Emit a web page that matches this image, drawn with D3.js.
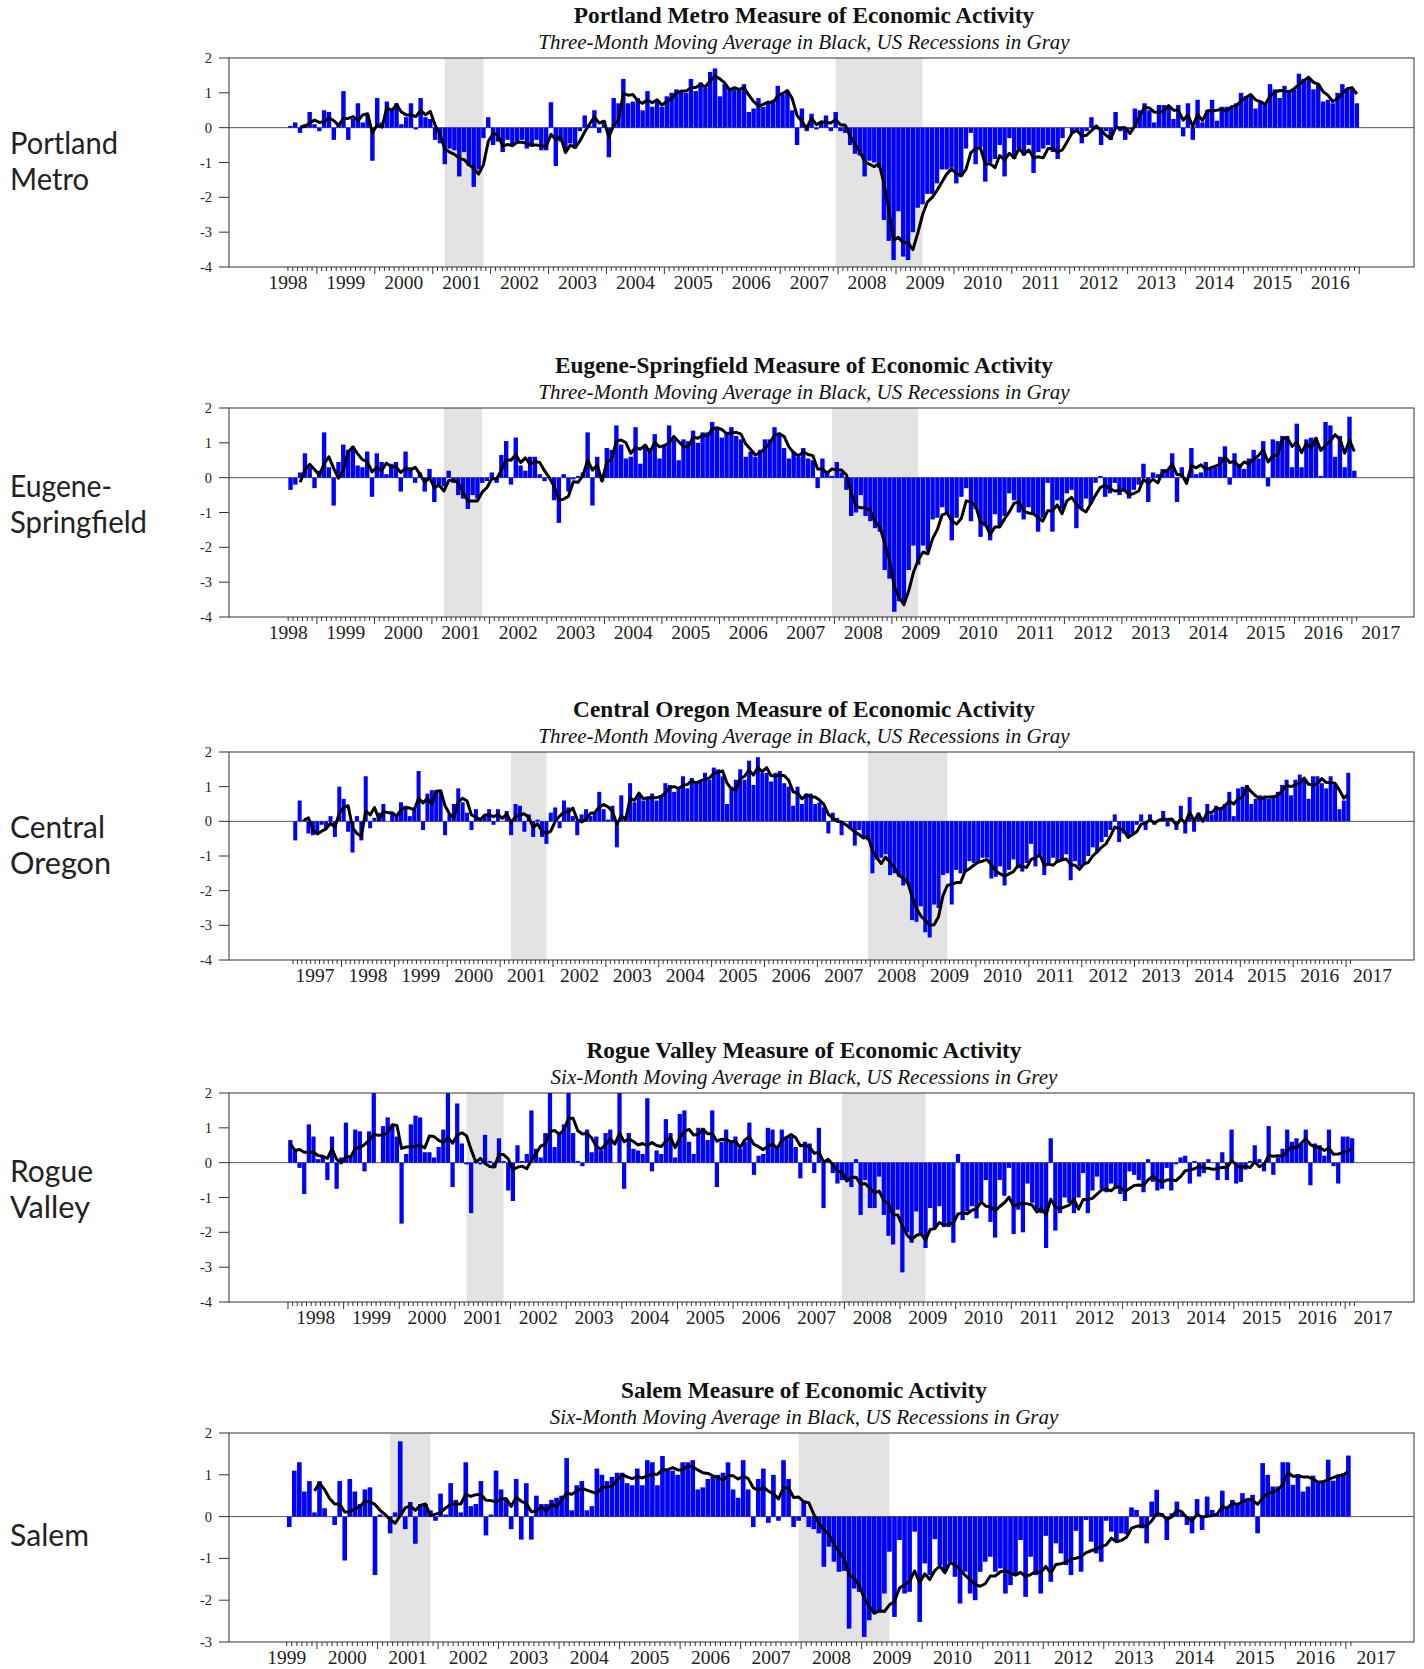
<!DOCTYPE html>
<html>
<head>
<meta charset="utf-8">
<script src="https://cdn.jsdelivr.net/npm/d3@7"></script>
<style>
  body { margin: 0; background: #ffffff; }
</style>
</head>
<body>
<svg id="chart" width="1424" height="1669"></svg>
<script>
// Monthly index values, one row per calendar year

const portlandStart = [1998, 7];
const portlandValues = [
  0.05, 0.15, -0.15, 0.1, 0.45, 0.1,
  -0.1, 0.5, 0.45, -0.35, 0.1, 1.05, -0.35, 0.25, 0.7, 0.15, 0.35, -0.95,
  0.85, 0.15, 0.75, 0.55, 0.7, 0.1, 0.3, 0.7, -0.05, 0.85, 0.3, 0.25,
  -0.35, -0.45, -1.05, -0.6, -0.65, -1.4, -0.7, -1.1, -1.7, -1.2, -0.3, 0.3,
  -0.5, -0.4, -0.7, -0.35, -0.5, -0.4, -0.35, -0.6, -0.55, -0.35, -0.65, -0.65,
  0.73, -1.1, -0.4, -0.65, -0.45, -0.6, -0.1, 0.35, 0.05, 0.5, -0.15, 0.2,
  -0.85, 0.85, 0.7, 1.4, 0.7, 0.75, 0.85, 0.5, 1.05, 0.6, 0.75, 0.6,
  0.9, 1.0, 1.1, 1.05, 1.0, 1.4, 1.05, 1.3, 1.15, 1.6, 1.7, 0.9,
  1.25, 1.1, 1.1, 1.1, 1.25, 0.45, 0.55, 0.85, 0.6, 0.75, 0.8, 1.2,
  0.95, 1.05, 0.5, -0.5, 0.55, -0.1, 0.4, -0.05, 0.15, 0.35, -0.1, 0.45,
  -0.1, -0.15, -0.5, -0.75, -0.8, -1.4, -0.95, -1.0, -1.15, -2.65, -3.25, -3.8,
  -2.4, -3.7, -3.8, -3.0, -2.3, -2.2, -1.9, -1.9, -1.6, -1.2, -1.2, -1.15,
  -1.6, -1.4, -0.6, -0.15, -1.05, -0.55, -1.55, -1.0, -0.9, -0.5, -1.4, -0.3,
  -0.9, -0.6, -0.8, -0.5, -1.3, -0.7, -0.6, -0.5, -0.7, -0.9, -0.3, 0.0,
  -0.15, -0.1, -0.45, -0.1, 0.3, -0.05, -0.5, -0.1, -0.35, 0.45, -0.1, -0.35,
  -0.05, 0.55, 0.5, 0.7, 0.5, 0.15, 0.65, 0.65, 0.6, 0.25, 0.65, -0.25,
  0.7, -0.35, 0.8, 0.15, 0.5, 0.8, 0.2, 0.6, 0.6, 0.6, 0.7, 1.0,
  0.9, 0.95, 0.55, 0.75, 0.7, 1.25, 1.1, 0.85, 1.2, 1.05, 1.1, 1.55,
  1.4, 1.4, 1.1, 1.25, 0.75, 0.8, 0.7, 1.0, 1.25, 1.1, 1.1, 0.7
];

const eugeneStart = [1998, 7];
const eugeneValues = [
  -0.35, -0.2, 0.15, 0.7, 0.3, -0.3,
  0.2, 1.3, 0.3, -0.8, 0.45, 0.95, 0.8, 0.9, 0.35, 0.3, 0.75, -0.55,
  0.7, 0.45, 0.1, 0.4, 0.45, -0.4, 0.75, 0.3, -0.15, 0.15, -0.4, 0.25,
  -0.7, -0.2, -0.25, 0.2, -0.15, -0.5, -0.6, -0.9, -0.5, -0.6, -0.15, -0.1,
  0.15, -0.15, 0.65, 1.05, -0.2, 1.15, 0.35, 0.2, 0.6, 0.6, 0.1, -0.1,
  0.0, -0.65, -1.3, 0.1, -0.4, -0.05, 0.05, 0.15, 1.3, -0.8, 0.6, -0.1,
  0.85, 0.8, 1.5, 0.95, 0.55, 0.6, 1.45, 0.4, 0.95, 0.85, 1.25, 0.55,
  0.95, 1.5, 1.1, 0.5, 1.1, 1.05, 1.35, 1.0, 1.3, 1.3, 1.6, 1.4,
  1.15, 1.25, 1.45, 1.2, 1.1, 0.6, 0.75, 0.6, 0.8, 1.1, 1.1, 1.45,
  1.25, 0.85, 0.55, 0.75, 0.6, 0.85, 0.55, 0.5, -0.3, 0.55, 0.15, 0.05,
  0.45, 0.15, -0.35, -1.1, -1.0, -0.5, -1.1, -1.25, -1.45, -1.55, -2.65, -2.9,
  -3.85, -3.55, -3.55, -2.65, -1.95, -2.5, -1.95, -2.1, -1.2, -1.15, -0.85, -1.05,
  -1.8, -1.15, -0.55, -0.3, -1.25, -0.9, -1.7, -1.4, -1.8, -1.05, -1.4, -1.1,
  -0.45, -0.65, -1.0, -1.2, -0.85, -1.05, -1.55, -1.15, -0.15, -1.55, -0.65, -0.9,
  -0.45, -0.35, -1.45, -0.9, -0.6, -0.75, -0.15, 0.05, -0.55, -0.45, -0.15, -0.5,
  -0.4, -0.6, -0.35, -0.2, 0.4, -0.7, 0.15, 0.1, 0.25, 0.25, 0.7, -0.7,
  0.3, -0.1, 0.85, 0.1, 0.15, 0.45, 0.25, 0.3, 0.6, 0.9, -0.2, 0.7,
  0.4, 0.25, 0.55, 0.8, 0.55, 1.05, -0.25, 1.1, 1.05, 1.2, 1.2, 0.3,
  1.55, 0.3, 1.1, 1.15, 1.15, 0.05, 1.6, 1.5, 0.6, 1.2, 0.3, 1.75,
  0.2
];

const centralStart = [1997, 2];
const centralValues = [
  -0.55, 0.6, 0.05, -0.35, -0.4, -0.35, -0.1, -0.2, 0.15, -0.45, 1.0,
  0.65, -0.3, -0.9, 0.15, -0.55, 1.3, -0.2, 0.1, 0.25, 0.5, 0.0, 0.25,
  0.2, 0.55, 0.45, 0.15, 0.4, 1.45, -0.25, 0.8, 0.9, 0.9, 0.85, -0.4,
  0.2, 0.5, 0.95, 0.55, 0.25, -0.25, 0.35, 0.05, 0.15, 0.35, -0.1, 0.35,
  0.0, 0.3, -0.4, 0.5, 0.45, -0.3, 0.2, -0.45, 0.05, -0.45, -0.65, 0.25,
  0.4, -0.2, 0.6, 0.4, 0.15, -0.4, 0.2, 0.35, 0.15, 0.25, 0.85, 0.35,
  0.05, 0.45, -0.75, 0.75, 0.15, 1.1, 0.55, 0.8, 0.6, 0.65, 0.8, 0.6,
  0.75, 1.1, 1.05, 0.85, 0.95, 1.3, 0.95, 1.25, 1.1, 1.15, 1.4, 1.2,
  1.55, 1.5, 1.3, 0.5, 1.0, 1.2, 1.5, 1.2, 1.75, 1.05, 1.85, 1.4,
  1.4, 1.15, 1.4, 1.45, 1.1, 1.0, 0.45, 1.0, 0.5, 0.8, 0.8, 0.5,
  0.55, 0.4, -0.35, 0.25, 0.1, -0.4, 0.0, -0.2, -0.7, -0.25, -0.5, -0.55,
  -1.5, -1.1, -1.05, -0.95, -1.55, -1.5, -1.6, -1.85, -1.8, -2.85, -2.9, -2.45,
  -3.2, -3.35, -2.4, -2.5, -1.55, -1.5, -2.4, -1.4, -1.5, -1.45, -1.15, -1.2,
  -1.2, -1.05, -1.05, -1.65, -1.6, -1.3, -1.85, -1.4, -1.1, -1.35, -1.45, -1.2,
  -0.65, -1.3, -0.95, -1.55, -1.2, -1.05, -1.2, -1.1, -0.95, -1.7, -1.15, -1.3,
  -1.25, -1.0, -0.75, -0.9, -0.6, -0.45, -0.25, 0.2, -0.6, -0.35, -0.45, -0.35,
  -0.1, 0.2, -0.25, 0.2, -0.1, 0.0, 0.3, -0.15, 0.05, -0.25, 0.45, -0.35,
  0.7, -0.3, 0.25, 0.05, 0.5, 0.2, 0.45, 0.4, 0.5, 0.85, 0.15, 0.95,
  1.0, 1.05, 0.5, 0.65, 0.75, 0.7, 0.65, 0.75, 0.85, 1.05, 1.2, 0.75,
  1.2, 1.35, 1.2, 0.65, 1.3, 1.3, 1.1, 0.95, 1.3, 1.05, 0.35, 0.6,
  1.4
];

const rogueStart = [1998, 1];
const rogueValues = [
  0.65, 0.35, -0.15, -0.9, 1.1, 0.75, 0.1, 0.2, -0.5, 0.75, -0.75, 0.15,
  1.15, 0.2, 0.95, 0.9, -0.25, 0.9, 2.2, 0.0, 1.05, 1.3, 1.1, 0.75,
  -1.75, 0.25, 1.1, 1.35, 1.3, 0.3, 0.3, 0.15, 0.45, 0.95, 2.2, -0.7,
  1.7, 0.55, -0.05, -1.45, 0.05, -0.05, 0.8, 0.05, -0.15, 0.7, 0.05, -0.8,
  -1.1, 0.5, 0.05, 0.25, 1.5, 0.4, 0.15, 0.85, 2.2, 0.45, 0.85, 1.1,
  2.2, 0.85, 0.05, -0.1, 0.95, 0.3, 0.75, 0.35, 0.85, 0.95, 0.0, 2.2,
  -0.75, 0.85, 0.4, 0.35, 0.25, 1.85, -0.25, 0.35, 0.25, 1.25, 0.85, 0.15,
  1.4, 1.5, 0.6, 0.25, 1.0, 1.0, 0.65, 1.5, -0.7, 0.6, 0.95, 0.6,
  0.75, 0.4, 0.6, 1.15, -0.35, 0.2, 0.25, 1.0, 0.95, 0.45, 0.95, 0.75,
  0.75, 0.45, -0.45, 0.6, 0.55, -0.3, 1.0, -1.3, 0.05, -0.3, -0.6, -0.5,
  -0.5, -0.7, 0.1, -1.5, -0.5, -1.3, -1.3, -0.4, -1.5, -2.1, -2.35, -1.35,
  -3.15, -2.0, -2.3, -1.4, -2.05, -2.45, -1.3, -1.85, -1.25, -1.85, -1.85, -2.3,
  0.25, -1.65, -1.4, -1.25, -1.6, -1.1, -0.5, -1.7, -2.15, -0.5, -0.95, -0.15,
  -2.05, -1.35, -2.0, -0.6, -1.15, -1.35, -1.45, -2.45, 0.7, -1.95, -1.45, -1.0,
  -1.15, -1.45, -1.0, -0.3, -1.45, -0.8, -0.4, -0.75, -0.85, -0.6, -0.75, -0.9,
  -1.1, -0.25, -0.35, -0.5, -0.85, 0.1, -0.55, -0.8, -0.75, -0.15, -0.8, -0.05,
  0.15, 0.2, -0.6, 0.05, -0.4, -0.3, 0.1, 0.0, -0.5, 0.3, -0.5, 0.95,
  -0.6, -0.55, -0.2, 0.05, 0.5, 0.1, -0.25, 1.05, -0.35, 0.15, 0.4, 0.95,
  0.6, 0.7, 0.55, 0.95, -0.65, 0.55, 0.5, 0.2, 0.95, -0.1, -0.6, 0.75,
  0.75, 0.7
];
// the six-month line for the first five months (earlier months not shown)
const rogueAverageHead = [0.55, 0.35, 0.38, 0.3, 0.3];

const salemStart = [1999, 7];
const salemValues = [
  -0.25, 1.1, 1.3, 0.6, 0.85, 0.1,
  0.85, 0.2, 0.0, -0.2, 0.85, -1.05, 0.9, 0.6, 0.3, 0.65, 0.7, -1.4,
  0.05, 0.0, -0.4, 0.1, 1.8, -0.3, 0.35, -0.65, 0.3, 0.3, 0.15, -0.1,
  0.55, 0.05, 0.8, 0.4, 0.1, 1.3, 0.25, 0.3, 0.85, -0.45, 0.05, 1.1,
  0.65, 0.4, -0.3, 0.9, -0.55, 0.8, -0.55, 0.5, 0.3, 0.3, 0.4, 0.45,
  0.5, 1.4, 0.15, 0.75, 0.85, 0.15, 0.25, 1.15, 1.0, 0.85, 0.95, 1.05,
  1.05, 0.8, 0.75, 1.15, 0.75, 1.35, 1.3, 0.75, 1.45, 1.1, 1.1, 1.0,
  1.3, 1.3, 1.35, 0.65, 0.7, 0.9, 0.95, 1.0, 1.05, 1.3, 0.65, 0.45,
  1.35, 0.65, -0.25, 0.9, 1.15, -0.15, 1.0, -0.1, 1.35, 0.9, -0.25, -0.1,
  0.35, -0.25, -0.3, -0.4, -1.2, -0.72, -1.08, -1.32, -1.3, -2.68, -1.72, -1.8,
  -2.88, -2.48, -2.32, -2.3, -1.84, -0.84, -2.4, -0.56, -1.84, -1.8, -0.36, -2.52,
  -1.12, -1.4, -0.54, -1.16, -1.32, -1.08, -1.44, -2.08, -1.32, -1.84, -2.0, -1.32,
  -1.08, -0.96, -1.32, -1.24, -1.84, -1.64, -1.4, -0.56, -1.92, -0.96, -1.4, -1.84,
  -0.46, -1.56, -0.64, -0.88, -1.16, -1.4, -0.34, -1.32, -0.08, -0.6, -0.88, -1.08,
  -0.1, -0.36, -0.6, -0.4, -0.42, 0.22, 0.16, -0.28, -0.64, 0.36, 0.64, 0.08,
  -0.56, 0.08, 0.36, 0.08, -0.2, -0.4, 0.42, -0.32, 0.48, 0.16, 0.06, 0.62,
  0.22, 0.4, 0.28, 0.56, 0.4, 0.52, -0.4, 1.28, 1.0, 0.72, 0.72, 1.3,
  1.3, 0.76, 1.02, 0.6, 0.72, 0.98, 0.84, 0.84, 1.36, 0.86, 1.0, 1.04,
  1.46
];

// US recessions, peak month to trough month
const recessionMonths = [[2001, 3, 2001, 11], [2007, 12, 2009, 6]];

const chartTitles = [
  "Portland Metro Measure of Economic Activity",
  "Eugene-Springfield Measure of Economic Activity",
  "Central Oregon Measure of Economic Activity",
  "Rogue Valley Measure of Economic Activity",
  "Salem Measure of Economic Activity"
];
const chartSubtitles = [
  "Three-Month Moving Average in Black, US Recessions in Gray",
  "Three-Month Moving Average in Black, US Recessions in Gray",
  "Three-Month Moving Average in Black, US Recessions in Gray",
  "Six-Month Moving Average in Black, US Recessions in Grey",
  "Six-Month Moving Average in Black, US Recessions in Gray"
];
const regionNames = [
  ["Portland", "Metro"],
  ["Eugene-", "Springfield"],
  ["Central", "Oregon"],
  ["Rogue", "Valley"],
  ["Salem"]
];
const averageWindows = [3, 3, 3, 6, 6];
const yTicksFour = [2, 1, 0, -1, -2, -3, -4];
const yTicksThree = [2, 1, 0, -1, -2, -3];

// page layout for each panel (pixels, plus the time span the x axis covers)
const panels = [
  { start: portlandStart, values: portlandValues, top: 58, bottom: 267,
    xDomain: [1997.482, 2017.945], yTicks: yTicksFour,
    nameBase: [154, 190], nameWidth: [108, 79] },
  { start: eugeneStart, values: eugeneValues, top: 408, bottom: 617,
    xDomain: [1997.471, 2018.08], yTicks: yTicksFour,
    nameBase: [497, 533], nameWidth: [102, 137] },
  { start: centralStart, values: centralValues, top: 752, bottom: 960,
    xDomain: [1995.872, 2018.285], yTicks: yTicksFour,
    nameBase: [838, 874], nameWidth: [95, 101] },
  { start: rogueStart, values: rogueValues, head: rogueAverageHead, top: 1093, bottom: 1302,
    xDomain: [1996.94, 2018.237], yTicks: yTicksFour,
    nameBase: [1182, 1218], nameWidth: [83, 80] },
  { start: salemStart, values: salemValues, top: 1433, bottom: 1642,
    xDomain: [1998.546, 2018.126], yTicks: yTicksThree,
    nameBase: [1546], nameWidth: [79] }
];

const plotLeft = 229;
const plotRight = 1414;
const titleCenter = 804;

const svg = d3.select("#chart");

// trailing moving average; the first months use the values
function movingAverage(values, n, head) {
  return values.map((v, i) => {
    if (head && i < head.length) return head[i];
    if (i < n - 1) return null;
    return d3.mean(values.slice(i - n + 1, i + 1));
  });
}

function drawPanel(p, k) {
  const x = d3.scaleLinear().domain(p.xDomain).range([plotLeft, plotRight]);
  const yMin = d3.min(p.yTicks);
  const y = d3.scaleLinear().domain([yMin, 2]).range([p.bottom, p.top]);
  const t0 = p.start[0] + (p.start[1] - 1) / 12;
  const step = 1 / 12;

  const avg = movingAverage(p.values, averageWindows[k], p.head);
  const rows = p.values.map((v, i) => ({ t: t0 + i * step, v: v, avg: avg[i] }));

  const g = svg.append("g");

  // clip so bars above 2 stop at the frame
  const clipId = "clip" + k;
  svg.append("clipPath").attr("id", clipId)
    .append("rect")
    .attr("x", plotLeft).attr("y", p.top)
    .attr("width", plotRight - plotLeft).attr("height", p.bottom - p.top);

  const plot = g.append("g").attr("clip-path", "url(#" + clipId + ")");

  // recession shading, from the middle of the peak month to the middle of the trough month
  plot.selectAll(".rec")
    .data(recessionMonths)
    .enter()
    .append("rect")
    .attr("x", (d) => x(d[0] + (d[1] - 0.5) / 12))
    .attr("width", (d) => x(d[2] + (d[3] - 0.5) / 12) - x(d[0] + (d[1] - 0.5) / 12))
    .attr("y", p.top)
    .attr("height", p.bottom - p.top)
    .attr("fill", "#e3e3e3");

  // zero line
  plot.append("line")
    .attr("x1", plotLeft).attr("x2", plotRight)
    .attr("y1", y(0)).attr("y2", y(0))
    .attr("stroke", "#555").attr("stroke-width", 1);

  // monthly bars
  plot.selectAll(".bar")
    .data(rows)
    .enter()
    .append("rect")
    .attr("x", (d) => x(d.t) + 0.2)
    .attr("width", (d) => x(d.t + step) - x(d.t) - 0.4)
    .attr("y", (d) => y(Math.max(0, d.v)))
    .attr("height", (d) => Math.abs(y(d.v) - y(0)))
    .attr("fill", "#0000ff");

  // moving average line
  const line = d3.line()
    .defined((d) => d.avg !== null)
    .x((d) => x(d.t + step / 2))
    .y((d) => y(d.avg));

  plot.append("path")
    .datum(rows)
    .attr("d", line)
    .attr("fill", "none")
    .attr("stroke", "#000")
    .attr("stroke-width", 3)
    .attr("stroke-linejoin", "round");

  // frame
  g.append("rect")
    .attr("x", plotLeft).attr("y", p.top)
    .attr("width", plotRight - plotLeft).attr("height", p.bottom - p.top)
    .attr("fill", "none").attr("stroke", "#333").attr("stroke-width", 1);

  // y ticks and labels
  g.selectAll(".ytick")
    .data(p.yTicks)
    .enter()
    .append("line")
    .attr("x1", plotLeft - 10).attr("x2", plotLeft)
    .attr("y1", (d) => y(d)).attr("y2", (d) => y(d))
    .attr("stroke", "#333");

  g.selectAll(".ylab")
    .data(p.yTicks)
    .enter()
    .append("text")
    .attr("x", plotLeft - 17)
    .attr("y", (d) => y(d))
    .attr("dy", "0.35em")
    .attr("text-anchor", "end")
    .attr("font-family", "Liberation Serif, serif")
    .attr("font-size", 14.5)
    .attr("fill", "#222")
    .text((d) => d);

  // month ticks along the data span, longer at each January
  const ticks = d3.range(p.values.length + 1).map((i) => t0 + i * step);
  g.selectAll(".xtick")
    .data(ticks)
    .enter()
    .append("line")
    .attr("x1", (d) => x(d)).attr("x2", (d) => x(d))
    .attr("y1", p.bottom)
    .attr("y2", (d) => p.bottom + (Math.abs(d - Math.round(d)) < 0.001 ? 7 : 4))
    .attr("stroke", "#333");

  // year labels centred in each year that has data
  const lastT = t0 + (p.values.length - 1) * step;
  const years = d3.range(Math.floor(t0 + 1e-6), Math.floor(lastT + 1e-6) + 1);
  g.selectAll(".xlab")
    .data(years)
    .enter()
    .append("text")
    .attr("x", (d) => x(d + 0.5))
    .attr("y", p.bottom + 22)
    .attr("text-anchor", "middle")
    .attr("font-family", "Liberation Serif, serif")
    .attr("font-size", 19.5)
    .attr("fill", "#222")
    .text((d) => d);

  // titles
  g.append("text")
    .attr("x", titleCenter).attr("y", p.top - 35)
    .attr("text-anchor", "middle")
    .attr("font-family", "Liberation Serif, serif")
    .attr("font-weight", "bold")
    .attr("font-size", 23.3)
    .attr("fill", "#111")
    .text(chartTitles[k]);

  g.append("text")
    .attr("x", titleCenter).attr("y", p.top - 9)
    .attr("text-anchor", "middle")
    .attr("font-family", "Liberation Serif, serif")
    .attr("font-style", "italic")
    .attr("font-size", 21)
    .attr("fill", "#111")
    .text(chartSubtitles[k]);

  // region name on the left
  regionNames[k].forEach((name, j) => {
    g.append("text")
      .attr("x", 10)
      .attr("y", p.nameBase[j])
      .attr("font-family", "Lato, sans-serif")
      .attr("font-size", 30)
      .attr("textLength", p.nameWidth[j])
      .attr("lengthAdjust", "spacingAndGlyphs")
      .attr("fill", "#222")
      .text(name);
  });
}

panels.forEach((p, k) => drawPanel(p, k));
</script>
</body>
</html>
